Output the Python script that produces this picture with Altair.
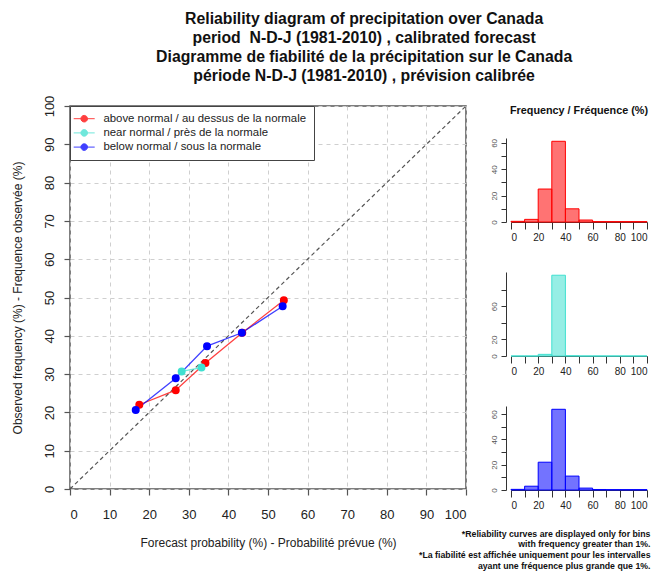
import altair as alt
import pandas as pd

FONT = "Liberation Sans"

categories = [
    "above normal / au dessus de la normale",
    "near normal / près de la normale",
    "below normal / sous la normale",
]
cat_colors = ["#FF0000", "#40E0D0", "#0000FF"]

# reliability curves (forecast prob %, observed freq %)
above_fc = [17.5, 26.7, 34.2, 43.5, 54.0]
above_obs = [22.0, 25.8, 32.9, 40.8, 49.3]
near_fc = [28.2, 33.2]
near_obs = [30.7, 31.7]
below_fc = [16.6, 26.7, 34.6, 43.4, 53.7]
below_obs = [20.6, 28.9, 37.3, 40.8, 47.7]

# histograms (frequency % per 10 % forecast bin)
bin_start = [0, 10, 20, 30, 40, 50, 60, 70, 80, 90]
bin_end = [10, 20, 30, 40, 50, 60, 70, 80, 90, 100]
above_freq = [0.5, 2.0, 25.0, 61.2, 10.0, 1.5, 0.3, 0.3, 0.3, 0.3]
near_freq = [0.0, 0.0, 2.0, 97.6, 0.3, 0.0, 0.0, 0.0, 0.0, 0.0]
below_freq = [0.5, 3.0, 22.0, 63.9, 11.0, 1.5, 0.4, 0.3, 0.3, 0.3]
hist_ymax = [63.7, 101.5, 66.5]

title_lines = [
    "Reliability diagram of precipitation over Canada",
    "period\u00a0 N-D-J (1981-2010) , calibrated forecast",
    "Diagramme de fiabilité de la précipitation sur le Canada",
    "période N-D-J (1981-2010) , prévision calibrée",
]
footnote_lines = [
    "*Reliability curves are displayed only for bins",
    "with frequency greater than 1%.",
    "*La fiabilité est affichée uniquement pour les intervalles",
    "ayant une fréquence plus grande que 1%.",
]

rows = []
for cat, fcs, obs in [
    (categories[0], above_fc, above_obs),
    (categories[1], near_fc, near_obs),
    (categories[2], below_fc, below_obs),
]:
    for f, o in zip(fcs, obs):
        rows.append({"cat": cat, "fc": f, "obs": o})
rel = pd.DataFrame(rows)
diag = pd.DataFrame({"fc": [0, 100], "obs": [0, 100]})

xs = alt.Scale(domain=[0, 100], nice=False)
ys = alt.Scale(domain=[0, 100], nice=False)
ticks10 = list(range(0, 101, 10))

x_axis = alt.Axis(
    values=ticks10, grid=True, gridDash=[4, 4], gridColor="#cfcfcf",
    domain=False, tickColor="#555", tickSize=6, tickWidth=1.2,
    labelFontSize=13, labelPadding=13, labelColor="#222",
    title="Forecast probability (%) - Probabilité prévue (%)",
    titleFontSize=12, titleFontWeight="normal", titlePadding=16, titleColor="#222",
)
y_axis = alt.Axis(
    values=ticks10, grid=True, gridDash=[4, 4], gridColor="#cfcfcf",
    domain=False, tickColor="#555", tickSize=6, tickWidth=1.2,
    labelFontSize=13, labelPadding=8, labelAngle=270, labelAlign="center",
    labelBaseline="bottom", labelColor="#222",
    title="Observed frequency (%) - Frequence observée (%)",
    titleFontSize=12, titleFontWeight="normal", titlePadding=19, titleColor="#222",
)

X = alt.X("fc:Q", scale=xs, axis=x_axis)
Y = alt.Y("obs:Q", scale=ys, axis=y_axis)

cscale = alt.Scale(domain=categories, range=cat_colors)
sym = "M-3.5,0H3.5M-1.1,0A1.1,1.1,0,1,1,1.1,0A1.1,1.1,0,1,1,-1.1,0Z"
leg = alt.Legend(
    title=None, orient="top-left", offset=0, padding=7, strokeColor="#444",
    fillColor="white", symbolType=sym, symbolSize=36, symbolStrokeWidth=1,
    symbolOffset=1.5, labelOffset=13.5, labelFontSize=11.4, rowPadding=1.2,
    labelLimit=0, labelColor="#222",
)

diag_layer = alt.Chart(diag).mark_line(
    color="#555", strokeDash=[4, 3], strokeWidth=1.2
).encode(x=X, y=Y)

line_layer = alt.Chart(rel).mark_line(strokeWidth=1.3, opacity=0.75).encode(
    x=X, y=Y, stroke=alt.Stroke("cat:N", scale=cscale, legend=leg)
)
point_layer = alt.Chart(rel).mark_circle(size=36, opacity=1).encode(
    x=X, y=Y,
    fill=alt.Fill("cat:N", scale=cscale, legend=leg),
    stroke=alt.Stroke("cat:N", scale=cscale, legend=leg),
)

main = alt.layer(diag_layer, line_layer, point_layer).properties(
    width=396, height=383,
    view=alt.ViewBackground(stroke="#555", strokeWidth=1.5),
)


def hist(freq, color, ymax, yticks, ylabels, xtitle=None):
    df = pd.DataFrame({"start": bin_start, "end": bin_end, "freq": freq})
    lab_expr = "indexof([" + ",".join(str(v) for v in ylabels) + "], datum.value) >= 0 ? datum.label : ''"
    xax_kwargs = dict(
        values=ticks10, labelExpr="datum.value % 20 == 0 ? datum.label : ''",
        labelFontSize=10, tickSize=7, tickColor="#333", domainColor="#333",
        grid=False, labelPadding=3, labelAngle=0, labelColor="#222",
    )
    if xtitle is not None:
        xax_kwargs.update(
            title=xtitle, titleAnchor="end", titleAlign="right", titleFontSize=8.75,
            titleFontWeight="bold", titleLineHeight=10.7, titlePadding=19,
            titleColor="#111", titleX=139,
        )
    else:
        xax_kwargs.update(title=None)
    return alt.Chart(df).mark_bar(
        fill=color, fillOpacity=0.55, stroke=color, strokeWidth=1
    ).encode(
        x=alt.X("start:Q", scale=alt.Scale(domain=[0, 100], nice=False),
                axis=alt.Axis(**xax_kwargs)),
        x2="end:Q",
        y=alt.Y("freq:Q", scale=alt.Scale(domain=[0, ymax], nice=False),
                axis=alt.Axis(values=yticks, labelExpr=lab_expr, labelAngle=270,
                              labelAlign="center", labelBaseline="bottom",
                              labelFontSize=8, labelColor="#555", tickSize=5,
                              tickColor="#333", domainColor="#333", offset=5,
                              grid=False, title=None, labelPadding=3)),
        y2=alt.datum(0),
    ).properties(width=136, height=84)


h1 = hist(above_freq, cat_colors[0], hist_ymax[0], [0, 10, 20, 30, 40, 50, 60], [0, 20, 40, 60])
h2 = hist(near_freq, cat_colors[1], hist_ymax[1], [0, 20, 40, 60, 80], [0, 20, 60])
h3 = hist(below_freq, cat_colors[2], hist_ymax[2], [0, 10, 20, 30, 40, 50, 60], [0, 20, 40, 60],
          xtitle=footnote_lines)

spacer = alt.Chart(pd.DataFrame({"v": [0]})).mark_point(size=0, opacity=0).properties(
    width=136, height=1,
    title=alt.TitleParams("Frequency / Fréquence (%)", orient="bottom", fontSize=10.8,
                          fontWeight="bold", offset=-2, anchor="middle", color="#111"),
)

right = alt.vconcat(spacer, alt.vconcat(h1, h2, h3, spacing=30), spacing=22)

chart = alt.hconcat(main, right, spacing=-52).properties(
    title=alt.TitleParams(title_lines, fontSize=15.8, fontWeight="bold", lineHeight=19,
                          anchor="middle", dx=34, offset=10, color="#111"),
    padding={"left": 10, "top": 10, "right": 3, "bottom": 3},
).configure(font=FONT).configure_view(stroke=None)

chart.save("out.html", embed_options={"renderer": "svg", "actions": False})
